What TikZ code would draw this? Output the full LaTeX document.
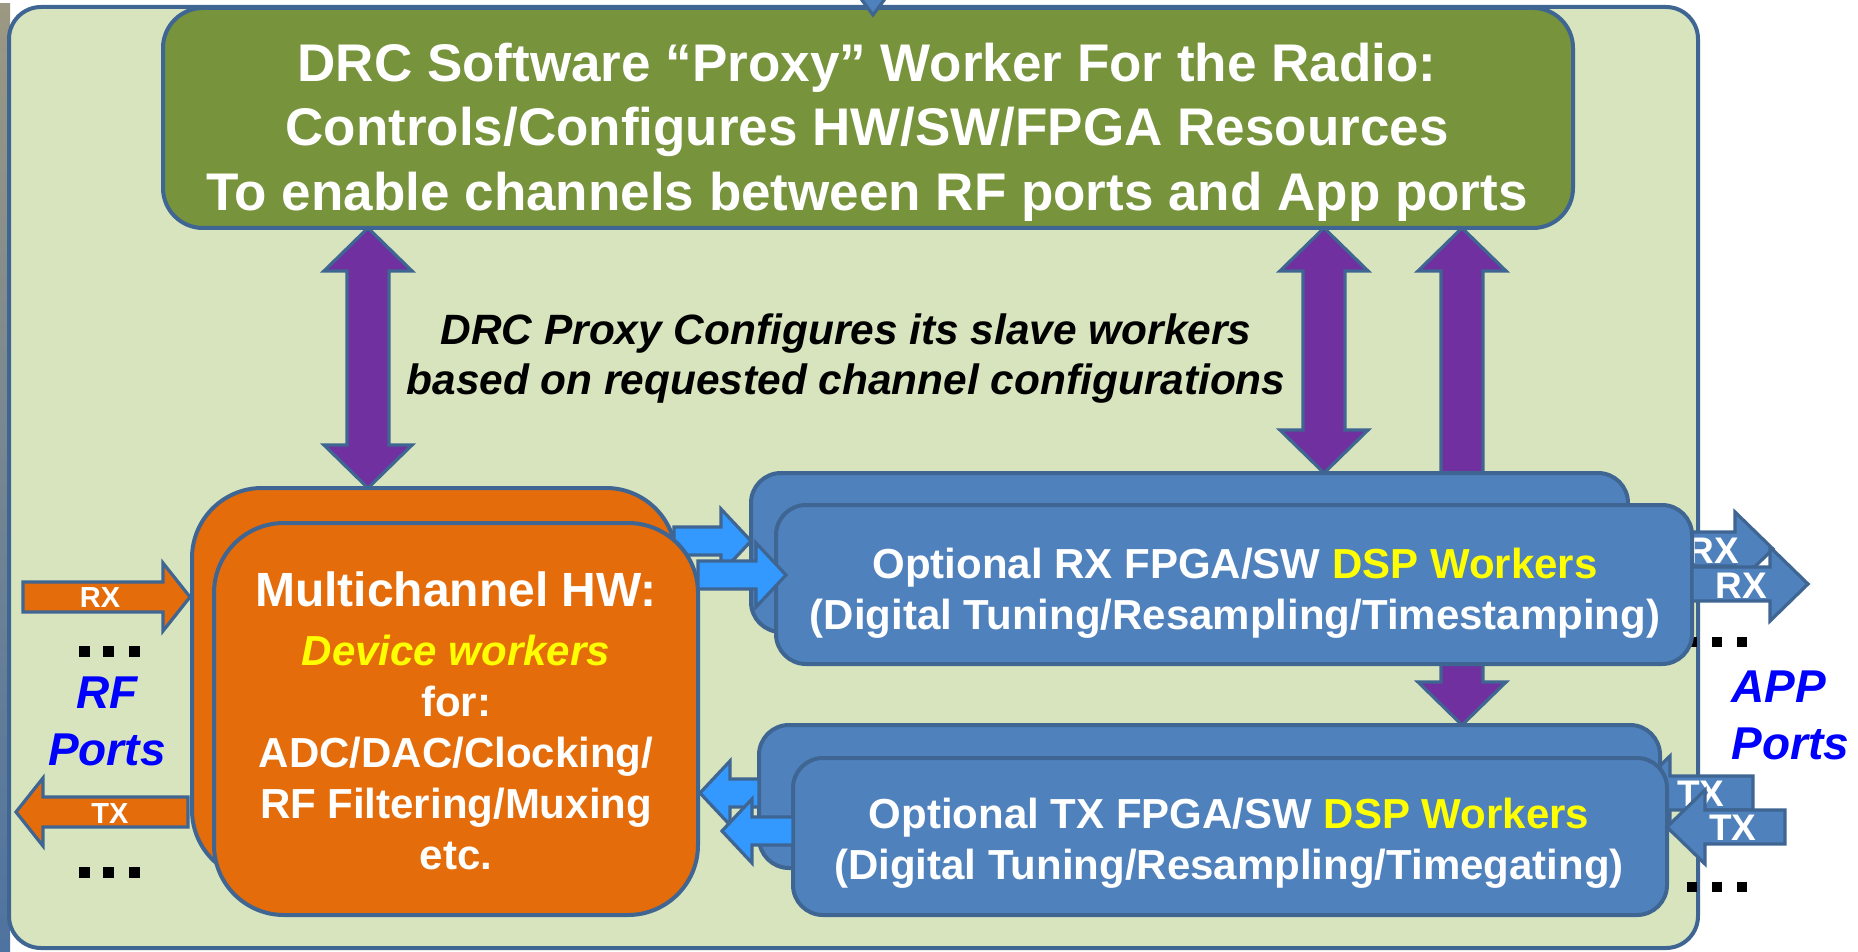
\documentclass[tikz,border=0pt]{standalone}
\usepackage{fontspec}
\setmainfont{Liberation Sans}
\usetikzlibrary{calc}

\definecolor{panelfill}{HTML}{D7E4BD}
\definecolor{edge}{HTML}{3F6592}
\definecolor{proxygreen}{HTML}{77933C}
\definecolor{hworange}{HTML}{E46C0A}
\definecolor{dspblue}{HTML}{4F81BD}
\definecolor{linkblue}{HTML}{3399FF}
\definecolor{ctrlpurple}{HTML}{7030A0}
\definecolor{portblue}{HTML}{0000FF}
\definecolor{hiyellow}{HTML}{FFFF00}
\definecolor{strip1}{HTML}{9C9882}
\definecolor{strip2}{HTML}{D2B06C}
\definecolor{strip3}{HTML}{4E73A0}

\pgfdeclarelayer{backdrop}
\pgfdeclarelayer{links}
\pgfsetlayers{backdrop,links,main}

\tikzset{
  edgeline/.style={draw=edge, line width=2pt},
  sized/.style 2 args={minimum width=#1*0.5pt, minimum height=#2*0.5pt},
  boxbase/.style={edgeline, rectangle, inner sep=0pt, outer sep=0pt},
  panelbox/.style={boxbase, fill=panelfill, rounded corners=16pt},
  proxybox/.style={boxbase, fill=proxygreen, rounded corners=20pt},
  hwbox/.style={boxbase, fill=hworange, rounded corners=35pt},
  dspbox/.style={boxbase, fill=dspblue, rounded corners=15pt},
  % horizontal block arrow: start = tail centre, target = tip
  hblock/.style n args={3}{to path={let \p1=(\tikztostart), \p2=(\tikztotarget),
      \n1={(\x2>\x1)*2-1} in
      ({\x1},{\y1+#3}) -- ({\x2-(\n1)*#1},{\y1+#3}) -- ({\x2-(\n1)*#1},{\y1+#2})
      -- ({\x2},{\y1}) -- ({\x2-(\n1)*#1},{\y1-#2}) -- ({\x2-(\n1)*#1},{\y1-#3})
      -- ({\x1},{\y1-#3}) -- cycle}},
  % vertical double-headed block arrow between two tips
  vdouble/.style n args={3}{to path={let \p1=(\tikztostart), \p2=(\tikztotarget),
      \n1={(\y2>\y1)*2-1} in
      ({\x1},{\y1}) -- ({\x1+#2},{\y1+(\n1)*#1}) -- ({\x1+#3},{\y1+(\n1)*#1})
      -- ({\x1+#3},{\y2-(\n1)*#1}) -- ({\x1+#2},{\y2-(\n1)*#1}) -- ({\x1},{\y2})
      -- ({\x1-#2},{\y2-(\n1)*#1}) -- ({\x1-#3},{\y2-(\n1)*#1})
      -- ({\x1-#3},{\y1+(\n1)*#1}) -- ({\x1-#2},{\y1+(\n1)*#1}) -- cycle}},
  ctrlarrow/.style={edgeline, line width=1.6pt, line join=miter, fill=ctrlpurple,
      vdouble={21.5pt}{22pt}{10.5pt}},
  linkarrow/.style={edgeline, line width=1.6pt, line join=miter, fill=linkblue,
      hblock={15pt}{16pt}{7pt}},
  apparrow/.style={edgeline, line width=1.6pt, line join=miter, fill=dspblue,
      hblock={19pt}{18.5pt}{8.5pt}},
  rfarrow/.style={edgeline, line width=1.6pt, line join=miter, fill=hworange,
      hblock={13.5pt}{17pt}{7.5pt}},
  headline/.style={text=white, font=\fontsize{26.5}{32.3}\selectfont\bfseries,
      align=center, inner sep=0pt},
  remark/.style={text=black, font=\fontsize{21.2}{25}\selectfont\bfseries\itshape,
      align=center, inner sep=0pt},
  bodytext/.style={text=white, font=\fontsize{21}{25.5}\selectfont\bfseries,
      align=center, inner sep=0pt},
  portname/.style={text=portblue, font=\fontsize{23}{28.5}\selectfont\bfseries\itshape,
      inner sep=0pt},
  smalltag/.style={text=white, font=\fontsize{14.5}{16}\selectfont\bfseries, inner sep=0pt},
  bigtag/.style={text=white, font=\fontsize{18.5}{20}\selectfont\bfseries, inner sep=0pt},
}

\begin{document}
\begin{tikzpicture}[x=0.5pt, y=-0.5pt]
\useasboundingbox (0,0) rectangle (1858,952);

\begin{pgfonlayer}{backdrop}
  % window edge
  \shade[top color=strip1, middle color=strip2, bottom color=strip3] (0,4) rectangle (10,952);
  % radio container
  \node[panelbox, sized={1689}{941}] (panel) at (853.5,477.5) {};
  % proxy worker
  \node[proxybox, sized={1410}{220}] (proxy) at (868,118) {};
  \node[headline] (proxylabel) at (867,132)
    {DRC Software “Proxy” Worker For the Radio:\\
     Controls/Configures HW/SW/FPGA Resources\\
     To enable channels between RF ports and App ports};
  \node[remark] (note) at (846,359)
    {DRC Proxy Configures its slave workers\\based on requested channel configurations};
\end{pgfonlayer}

% multichannel hardware device workers
\node[hwbox, sized={484}{392}] (hwback) at (434,684) {};
\node[hwbox, sized={484}{392}] (hwfront) at (456,719) {};
\node[bodytext] (hwlabel) at (456,721)
  {{\fontsize{24}{28}\selectfont Multichannel HW:}\\[4pt]
   \textcolor{hiyellow}{\itshape Device workers}\\
   for:\\ ADC/DAC/Clocking/\\ RF Filtering/Muxing\\ etc.};

% RX DSP workers
\node[dspbox, sized={877}{159}] (rxback) at (1189.5,552.5) {};
\node[dspbox, sized={916}{159}] (rxfront) at (1234,584.5) {};
\node[bodytext] (rxlabel) at (1235,593)
  {Optional RX FPGA/SW \textcolor{hiyellow}{DSP Workers}\\
   (Digital Tuning/Resampling/Timestamping)};

% TX DSP workers
\node[dspbox, sized={901}{143}] (txback) at (1209.5,796.5) {};
\node[dspbox, sized={874}{157}] (txfront) at (1230,836.5) {};
\node[bodytext] (txlabel) at (1229,843)
  {Optional TX FPGA/SW \textcolor{hiyellow}{DSP Workers}\\
   (Digital Tuning/Resampling/Timegating)};

% reference columns and rows for connectors
\coordinate (colL) at (368,0);
\coordinate (colM) at (1324,0);
\coordinate (colR) at (1462,0);
\coordinate (ctlLtop) at (proxy.south -| colL);
\coordinate (ctlLbot) at (hwback.north -| colL);
\coordinate (ctlMtop) at (proxy.south -| colM);
\coordinate (ctlMbot) at (rxback.north -| colM);
\coordinate (ctlRtop) at (proxy.south -| colR);
\coordinate (ctlRbot) at (txback.north -| colR);

\coordinate (b1) at (674,541);
\coordinate (b1t) at (rxback.west |- b1);
\coordinate (b2y) at (0,575);
\coordinate (b2) at (hwfront.east |- b2y);
\coordinate (b2t) at ($(rxfront.west |- b2y)+(10,0)$);

\coordinate (tay) at (0,793);
\coordinate (ta) at (txback.west |- tay);
\coordinate (tat) at ($(hwfront.east |- tay)+(2,0)$);
\coordinate (tby) at (0,831);
\coordinate (tb) at (txfront.west |- tby);
\coordinate (tbt) at ($(hwfront.east |- tby)+(24,0)$);

\coordinate (r1y) at (0,549);
\coordinate (r1) at ($(rxfront.east |- r1y)+(-20,0)$);
\coordinate (r1t) at ($(rxfront.east |- r1y)+(81,0)$);
\coordinate (r2y) at (0,584);
\coordinate (r2) at (rxfront.east |- r2y);
\coordinate (r2t) at ($(rxfront.east |- r2y)+(116,0)$);

\coordinate (t1y) at (0,793);
\coordinate (t1) at ($(txfront.east |- t1y)+(86,0)$);
\coordinate (t1t) at ($(txback.east |- t1y)+(-28,0)$);
\coordinate (t2y) at (0,827);
\coordinate (t2) at ($(txfront.east |- t2y)+(118,0)$);
\coordinate (t2t) at (txfront.east |- t2y);

\coordinate (rfrxy) at (0,597);
\coordinate (rfrx) at (23,597);
\coordinate (rfrxt) at ($(hwback.west |- rfrxy)+(-2,0)$);
\coordinate (rftxy) at (0,812);
\coordinate (rftx) at ($(hwback.west |- rftxy)+(-4,0)$);
\coordinate (rftxt) at (16,812);

\begin{pgfonlayer}{links}
  % proxy control paths
  \draw[ctrlarrow] (ctlLtop) to (ctlLbot);
  \draw[ctrlarrow] (ctlMtop) to (ctlMbot);
  \draw[ctrlarrow] (ctlRtop) to (ctlRbot);
  % hardware to RX workers (rear channel)
  \draw[linkarrow] (b1) to (b1t);
  % rear RX and TX application ports
  \draw[apparrow] (r1) to (r1t);
  \node[bigtag] (rxapp1) at (1713,551) {RX};
  \draw[apparrow] (t1) to (t1t);
  \node[bigtag] (txapp1) at (1701,794) {TX};
  % continuation dots
  \foreach \dx in {84,108.5,134} {
    \fill (\dx-5.5,646) rectangle +(11,11);
    \fill (\dx-5.5,866.5) rectangle +(11,11);
  }
  \foreach \dx in {1692,1717,1742} {
    \fill (\dx-5,637) rectangle +(10,10);
    \fill (\dx-5,882) rectangle +(10,10);
  }
\end{pgfonlayer}

% front channel connectors
\draw[linkarrow] (b2) to (b2t);
\draw[linkarrow] (ta) to (tat);
\draw[linkarrow] (tb) to (tbt);

\draw[apparrow] (r2) to (r2t);
\node[bigtag] (rxapp2) at (1741,586) {RX};
\draw[apparrow] (t2) to (t2t);
\node[bigtag] (txapp2) at (1733,828) {TX};

% RF ports
\draw[rfarrow] (rfrx) to (rfrxt);
\node[smalltag] (rfrxlabel) at (100,598) {RX};
\draw[rfarrow] (rftx) to (rftxt);
\node[smalltag] (rftxlabel) at (110,814) {TX};

\node[portname, align=center] (rfports) at (107,721) {RF\\Ports};
\node[portname, align=left, anchor=west] (appports) at (1731,715) {APP\\Ports};

% incoming control arrow from above
\draw[edgeline, line width=1.6pt, line join=miter, fill=dspblue]
  (856,-8) -- (890,-8) -- (873,15) -- cycle;
\end{tikzpicture}
\end{document}
